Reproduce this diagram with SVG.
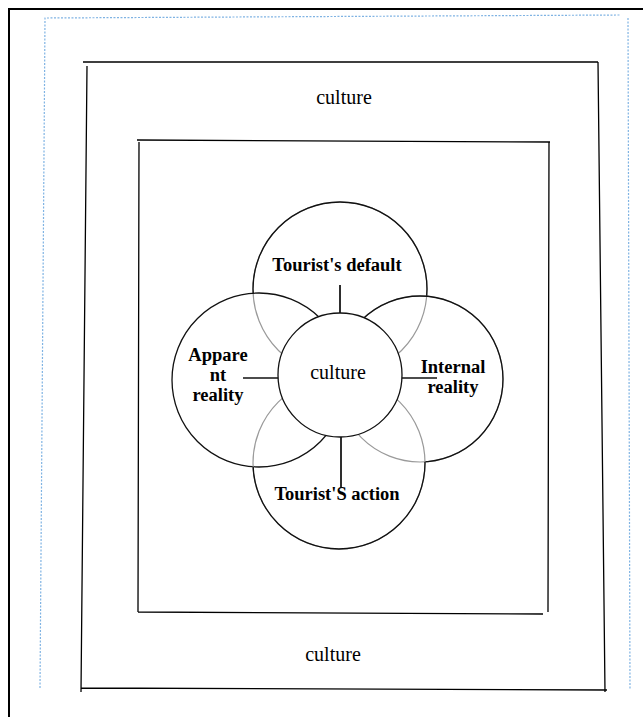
<svg xmlns="http://www.w3.org/2000/svg" width="643" height="717" viewBox="0 0 643 717">
<style>
.frame{fill:none;stroke:#000;stroke-width:1.3}
.blue{fill:none;stroke:#7fb3e3;stroke-width:1.2;stroke-dasharray:2 1.5}
.lbl{font-family:"Liberation Serif","Times New Roman",serif;font-size:20px;fill:#000;text-anchor:middle}
.b{font-weight:bold;font-size:18.5px}
.g{fill:none;stroke:#9a9a9a;stroke-width:1.2}
.k{fill:none;stroke:#111;stroke-width:1.3}
.conn{stroke:#111;stroke-width:1.3}
</style>
<defs>
<mask id="mT"><rect width="643" height="717" fill="#fff"/><circle cx="259" cy="380" r="87" fill="#000"/><circle cx="420" cy="379" r="83" fill="#000"/></mask>
<mask id="mR"><rect width="643" height="717" fill="#fff"/><circle cx="339" cy="463" r="86" fill="#000"/></mask>
<mask id="mB"><rect width="643" height="717" fill="#fff"/><circle cx="259" cy="380" r="87" fill="#000"/><circle cx="420" cy="379" r="83" fill="#000"/></mask>
</defs>
<rect width="643" height="717" fill="#fff"/>
<path d="M9,717 V9 H643" fill="none" stroke="#000" stroke-width="2"/>
<path class="blue" d="M40,688 L45,18 L620,15 M628,18 L630,690"/>
<g id="outer-box">
<path class="frame" d="M83,62 L598,62 M87,66 L81,692 M598,62 L605,692 M81,688 L607,690"/>
<text class="lbl" x="344" y="104">culture</text>
<text class="lbl" x="333" y="661">culture</text>
</g>
<g id="inner-box">
<path class="frame" d="M137,140 L550,142 M139,142 L138,612 M549,142 L548,612 M138,612 L543,614"/>
</g>
<g id="connectors">
<line class="conn" x1="340" y1="285" x2="340" y2="318"/>
<line class="conn" x1="243" y1="378" x2="279" y2="378"/>
<line class="conn" x1="401" y1="378" x2="437" y2="378"/>
<line class="conn" x1="341" y1="436" x2="341" y2="488"/>
</g>
<g id="tourists-default">
<circle class="g" cx="340" cy="289" r="87"/>
<circle class="k" cx="340" cy="289" r="87" mask="url(#mT)"/>
<text class="lbl b" x="337" y="271">Tourist's default</text>
</g>
<g id="apparent-reality">
<circle class="k" cx="259" cy="380" r="87"/>
<text class="lbl b" x="218" y="361">Appare</text>
<text class="lbl b" x="218" y="381">nt</text>
<text class="lbl b" x="218" y="401">reality</text>
</g>
<g id="internal-reality">
<circle class="g" cx="420" cy="379" r="83"/>
<circle class="k" cx="420" cy="379" r="83" mask="url(#mR)"/>
<text class="lbl b" x="453" y="373">Internal</text>
<text class="lbl b" x="453" y="393">reality</text>
</g>
<g id="tourists-action">
<circle class="g" cx="339" cy="463" r="86"/>
<circle class="k" cx="339" cy="463" r="86" mask="url(#mB)"/>
<text class="lbl b" x="337" y="500">Tourist'S action</text>
</g>
<g id="culture-center">
<circle cx="340" cy="375" r="62" fill="#fff" stroke="#111" stroke-width="1.3"/>
<text class="lbl" x="338" y="379">culture</text>
</g>
<line class="conn" x1="340" y1="285" x2="340" y2="313"/>
<line class="conn" x1="341" y1="437" x2="341" y2="488"/>
</svg>
